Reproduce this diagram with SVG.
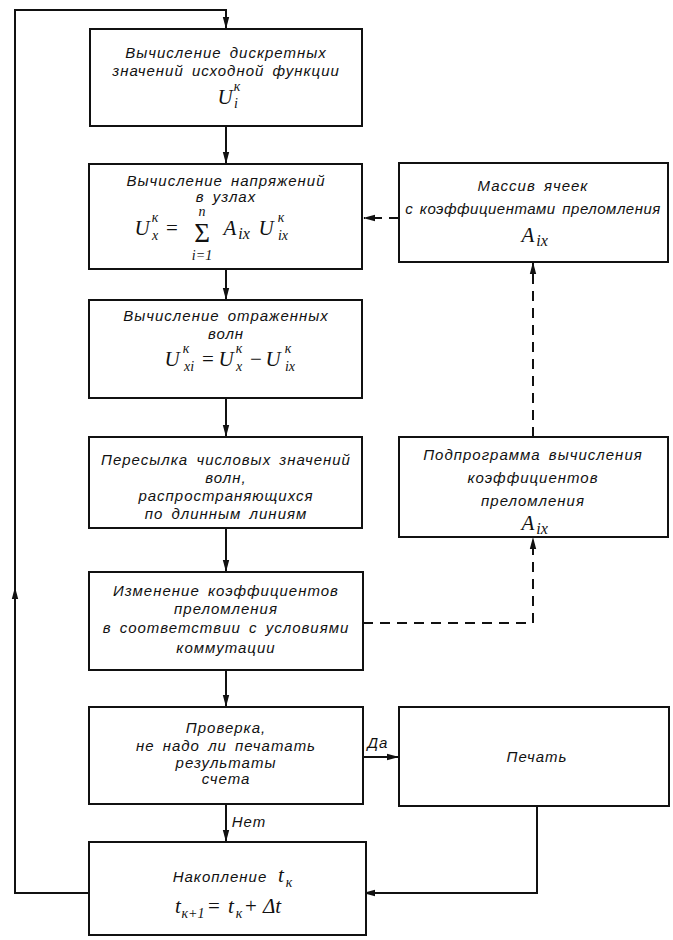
<svg xmlns="http://www.w3.org/2000/svg" width="673" height="940" viewBox="0 0 673 940">
<style>
.box{fill:#fff;stroke:#111;stroke-width:2}
.t{font-family:"Liberation Sans","DejaVu Sans",sans-serif;font-style:italic;font-size:15px;letter-spacing:1px;word-spacing:3px;fill:#111;text-anchor:middle}
.m{font-family:"Liberation Serif","DejaVu Serif",serif;font-style:italic;font-size:21px;fill:#111;text-anchor:middle}
.s{font-family:"Liberation Serif","DejaVu Serif",serif;font-style:italic;font-size:14px;fill:#111;text-anchor:middle}
.n{font-family:"Liberation Serif","DejaVu Serif",serif;font-size:21px;fill:#111;text-anchor:middle}
.c{fill:none;stroke:#111;stroke-width:2}
.d{fill:none;stroke:#111;stroke-width:2;stroke-dasharray:10,7}
</style>
<defs>
<marker id="a" markerWidth="12" markerHeight="8" refX="11" refY="4" orient="auto" markerUnits="userSpaceOnUse">
<path d="M0,0.8 L12,4 L0,7.2 z" fill="#111"/>
</marker>
</defs>
<rect width="673" height="940" fill="#fff"/>
<g id="connectors">
<path class="c" d="M89,893 H15 V588" marker-end="url(#a)"/>
<path class="c" d="M15,590 V10 H226 V28" marker-end="url(#a)"/>
<path class="c" d="M226,126 V163" marker-end="url(#a)"/>
<path class="c" d="M226,269 V299" marker-end="url(#a)"/>
<path class="c" d="M226,398 V436" marker-end="url(#a)"/>
<path class="c" d="M226,528 V571" marker-end="url(#a)"/>
<path class="c" d="M226,670 V706" marker-end="url(#a)"/>
<path class="c" d="M226,804 V841" marker-end="url(#a)"/>
<path class="c" d="M363,757 H398" marker-end="url(#a)"/>
<path class="c" d="M537,806 V893 H364" marker-end="url(#a)"/>
<path class="d" d="M399,218 H364" marker-end="url(#a)"/>
<path class="d" d="M533,437 V263" marker-end="url(#a)"/>
<path class="d" d="M363,623 H533 V538" marker-end="url(#a)"/>
<text class="t" x="378" y="748">Да</text>
<text class="t" x="249" y="827">Нет</text>
</g>
<g id="n1">
<rect class="box" x="90" y="29" width="272" height="97"/>
<text class="t" x="226" y="58">Вычисление дискретных</text>
<text class="t" x="226" y="76">значений исходной функции</text>
<text class="m" x="225" y="104">U</text>
<text class="s" x="236" y="108">i</text>
<text class="s" x="237" y="91">к</text>
</g>
<g id="n2">
<rect class="box" x="89" y="164" width="273" height="105"/>
<text class="t" x="226" y="186">Вычисление напряжений</text>
<text class="t" x="226" y="202">в узлах</text>
<text class="m" x="142" y="235">U</text>
<text class="s" x="155" y="240">x</text>
<text class="s" x="155" y="222">к</text>
<text class="n" x="172" y="235">=</text>
<text class="n" x="202" y="242" style="font-size:27px">Σ</text>
<text class="s" x="202" y="216">n</text>
<text class="s" x="202" y="260">i=1</text>
<text class="m" x="230" y="235">A</text>
<text class="s" x="244" y="239" style="font-size:16px">ix</text>
<text class="m" x="266" y="235">U</text>
<text class="s" x="283" y="240">ix</text>
<text class="s" x="281" y="222">к</text>
</g>
<g id="n3">
<rect class="box" x="399" y="163" width="269" height="99"/>
<text class="t" x="533" y="191">Массив ячеек</text>
<text class="t" x="533" y="214" style="letter-spacing:0.5px;word-spacing:2px">с коэффициентами преломления</text>
<text class="m" x="528" y="242">A</text>
<text class="s" x="542" y="246" style="font-size:16px">ix</text>
</g>
<g id="n4">
<rect class="box" x="89" y="300" width="273" height="98"/>
<text class="t" x="226" y="321">Вычисление отраженных</text>
<text class="t" x="226" y="339">волн</text>
<text class="m" x="172" y="366">U</text>
<text class="s" x="189" y="371">xi</text>
<text class="s" x="186" y="353">к</text>
<text class="n" x="208" y="366">=</text>
<text class="m" x="226" y="366">U</text>
<text class="s" x="239" y="371">x</text>
<text class="s" x="239" y="353">к</text>
<text class="n" x="256" y="366">−</text>
<text class="m" x="273" y="366">U</text>
<text class="s" x="290" y="371">ix</text>
<text class="s" x="288" y="353">к</text>
</g>
<g id="n5">
<rect class="box" x="89" y="437" width="273" height="91"/>
<text class="t" x="226" y="465">Пересылка числовых значений</text>
<text class="t" x="226" y="483">волн,</text>
<text class="t" x="226" y="501">распространяющихся</text>
<text class="t" x="226" y="519">по длинным линиям</text>
</g>
<g id="n6">
<rect class="box" x="399" y="437" width="269" height="100"/>
<text class="t" x="533" y="460">Подпрограмма вычисления</text>
<text class="t" x="533" y="483">коэффициентов</text>
<text class="t" x="533" y="506">преломления</text>
<text class="m" x="528" y="530">A</text>
<text class="s" x="542" y="534" style="font-size:16px">ix</text>
</g>
<g id="n7">
<rect class="box" x="89" y="572" width="274" height="98"/>
<text class="t" x="226" y="596">Изменение коэффициентов</text>
<text class="t" x="226" y="614">преломления</text>
<text class="t" x="226" y="633">в соответствии с условиями</text>
<text class="t" x="226" y="653">коммутации</text>
</g>
<g id="n8">
<rect class="box" x="89" y="707" width="274" height="97"/>
<text class="t" x="226" y="733">Проверка,</text>
<text class="t" x="226" y="751">не надо ли печатать</text>
<text class="t" x="226" y="768">результаты</text>
<text class="t" x="226" y="784">счета</text>
</g>
<g id="n9">
<rect class="box" x="399" y="707" width="270" height="99"/>
<text class="t" x="537" y="762">Печать</text>
</g>
<g id="n10">
<rect class="box" x="89" y="842" width="277" height="93"/>
<text class="t" x="220" y="882">Накопление</text>
<text class="m" x="281" y="882">t</text>
<text class="s" x="289" y="887">к</text>
<text class="m" x="178" y="913">t</text>
<text class="s" x="193" y="918">к+1</text>
<text class="n" x="214" y="913">=</text>
<text class="m" x="231" y="913">t</text>
<text class="s" x="239" y="918">к</text>
<text class="n" x="251" y="913">+</text>
<text class="m" x="272" y="913">Δt</text>
</g>
</svg>
